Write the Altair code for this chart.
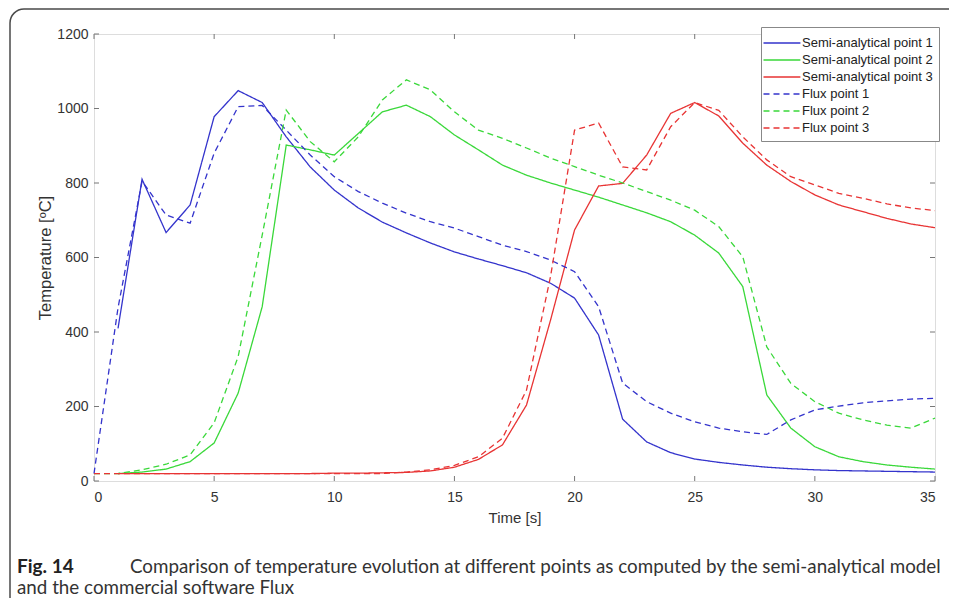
import altair as alt
import pandas as pd

# ---- data ----
series_names = ["Semi-analytical point 1", "Semi-analytical point 2", "Semi-analytical point 3",
                "Flux point 1", "Flux point 2", "Flux point 3"]
series_colors = ["#3434cc", "#3ad83a", "#e83434", "#3434cc", "#3ad83a", "#e83434"]

t_semi = list(range(1, 36))
t_flux = list(range(0, 36))

semi1 = [410, 810, 667, 741, 978, 1048, 1016, 924, 843, 781, 733, 695, 666, 639, 615, 596, 578, 559,
         531, 491, 392, 166, 105, 76, 59, 50, 43, 37, 33, 30, 28, 27, 26, 25, 24]
semi2 = [20, 24, 32, 52, 102, 236, 468, 902, 889, 875, 933, 991, 1009, 978, 929, 889, 848, 821,
         800, 781, 762, 741, 720, 696, 660, 612, 522, 231, 142, 92, 65, 52, 43, 37, 32]
semi3 = [20, 20, 20, 20, 20, 20, 20, 20, 20, 21, 21, 22, 23, 27, 37, 58, 97, 204,
         432, 674, 792, 799, 875, 987, 1016, 980, 907, 848, 804, 768, 741, 723, 705, 690, 680]

flux1 = [20, 465, 805, 714, 692, 880, 1005, 1008, 942, 875, 817, 777, 746, 719, 696, 679, 656, 633,
         616, 593, 562, 468, 263, 213, 182, 159, 142, 132, 125, 164, 191, 201, 210, 215, 220, 222]
flux2 = [20, 20, 30, 45, 70, 156, 334, 660, 996, 911, 857, 924, 1023, 1077, 1050, 991, 942, 920,
         894, 867, 844, 821, 800, 777, 754, 727, 683, 602, 360, 262, 213, 182, 164, 150, 142, 169]
flux3 = [20, 20, 20, 20, 20, 20, 20, 20, 20, 20, 20, 20, 20, 24, 30, 42, 65, 115,
         244, 549, 942, 961, 843, 835, 951, 1016, 995, 924, 862, 817, 795, 772, 759, 744, 733, 726]

x_ticks = [0, 5, 10, 15, 20, 25, 30, 35]
y_ticks = [0, 200, 400, 600, 800, 1000, 1200]

caption_bold = "Fig. 14"
caption_line1 = "Comparison of temperature evolution at different points as computed by the semi-analytical model"
caption_line2 = "and the commercial software Flux"

# ---- build table ----
rows = []
for name, ts, vs in [(series_names[0], t_semi, semi1), (series_names[1], t_semi, semi2),
                     (series_names[2], t_semi, semi3), (series_names[3], t_flux, flux1),
                     (series_names[4], t_flux, flux2), (series_names[5], t_flux, flux3)]:
    for t, v in zip(ts, vs):
        rows.append({"t": t, "v": v, "series": name})
df = pd.DataFrame(rows)

W, H = 841, 447
FONT = "Liberation Sans"
CAP_FONT = "Lato"
dash_range = [[1, 0], [1, 0], [1, 0], [6, 4], [6, 4], [6, 4]]

legend = alt.Legend(title=None, orient="none", legendX=667, legendY=-7,
                    fillColor="white", strokeColor="#888", padding=6,
                    symbolType="M-1.5,0H2.6", symbolSize=324, symbolStrokeWidth=1.3,
                    labelFontSize=13, labelFont=FONT, labelColor="#222",
                    rowPadding=0, labelOffset=15)

xscale = alt.Scale(domain=[0, 35], nice=False, zero=False)
yscale = alt.Scale(domain=[0, 1200], nice=False)

lines = alt.Chart(df).mark_line(strokeWidth=1.3).encode(
    x=alt.X("t:Q", scale=xscale,
            axis=alt.Axis(values=x_ticks, format="d", title="Time [s]", ticks=False, domain=False, grid=False,
                          labelFontSize=14, labelColor="#333", labelPadding=9, labelFont=FONT,
                          titleFontSize=15, titleFontWeight="normal", titleColor="#333",
                          titlePadding=6, titleFont=FONT)),
    y=alt.Y("v:Q", scale=yscale,
            axis=alt.Axis(values=y_ticks, format="d", title="Temperature [ºC]", ticks=False, domain=False, grid=False,
                          labelFontSize=14, labelColor="#333", labelPadding=6, labelFont=FONT,
                          titleFontSize=16.5, titleFontWeight="normal", titleColor="#333",
                          titlePadding=3, titleFont=FONT)),
    color=alt.Color("series:N", scale=alt.Scale(domain=series_names, range=series_colors), legend=legend),
    strokeDash=alt.StrokeDash("series:N", scale=alt.Scale(domain=series_names, range=dash_range), legend=legend),
)

xt = pd.DataFrame({"t": x_ticks})
yt = pd.DataFrame({"v": y_ticks})
tick_color = "#777"
tb = alt.Chart(xt).mark_rule(color=tick_color).encode(x=alt.X("t:Q", scale=xscale), y=alt.value(H), y2=alt.value(H - 5))
tt = alt.Chart(xt).mark_rule(color=tick_color).encode(x=alt.X("t:Q", scale=xscale), y=alt.value(0), y2=alt.value(5))
tl = alt.Chart(yt).mark_rule(color=tick_color).encode(y=alt.Y("v:Q", scale=yscale), x=alt.value(0), x2=alt.value(5))
tr = alt.Chart(yt).mark_rule(color=tick_color).encode(y=alt.Y("v:Q", scale=yscale), x=alt.value(W), x2=alt.value(W - 5))

frame = alt.Chart(pd.DataFrame({"a": [0]})).mark_rect(
    fill=None, stroke="#4a4a4a", strokeWidth=1.5, cornerRadius=14
).encode(x=alt.value(-84), x2=alt.value(900), y=alt.value(-25), y2=alt.value(620))

cap1 = alt.Chart(pd.DataFrame({"txt": [caption_bold]})).mark_text(
    align="left", baseline="middle", font=CAP_FONT, fontSize=19, fontWeight="bold", color="#222").encode(
    text="txt:N", x=alt.value(-77), y=alt.value(533))
cap2 = alt.Chart(pd.DataFrame({"txt": [caption_line1]})).mark_text(
    align="left", baseline="middle", font=CAP_FONT, fontSize=18.8, color="#333").encode(
    text="txt:N", x=alt.value(36), y=alt.value(533))
cap3 = alt.Chart(pd.DataFrame({"txt": [caption_line2]})).mark_text(
    align="left", baseline="middle", font=CAP_FONT, fontSize=18.8, color="#333").encode(
    text="txt:N", x=alt.value(-77), y=alt.value(554))

chart = alt.layer(frame, tb, tt, tl, tr, lines, cap1, cap2, cap3).properties(
    width=W, height=H,
    autosize=alt.AutoSizeParams(type="none"),
    padding={"left": 86, "top": 26, "right": 14, "bottom": 117},
).configure_view(stroke="#777", strokeWidth=1).configure(background="white")

chart.save("out.html", embed_options={"renderer": "svg", "actions": False})
